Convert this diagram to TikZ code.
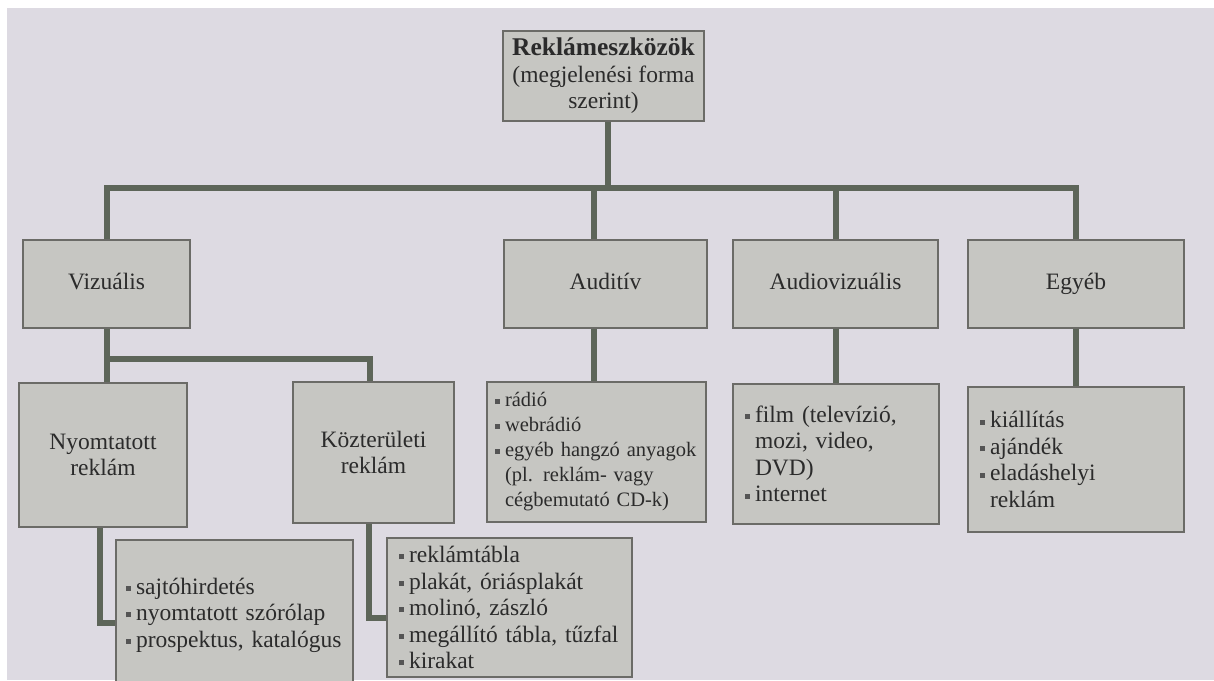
\documentclass[tikz,border=0pt]{standalone}
\usepackage{fontspec}
\setmainfont{Liberation Serif}
\usetikzlibrary{positioning}
\definecolor{paper}{HTML}{DDDAE2}
\definecolor{boxfill}{HTML}{C6C6C2}
\definecolor{edge}{HTML}{6B6B67}
\definecolor{wire}{HTML}{5D6559}
\definecolor{ink}{HTML}{2B2B2B}
\definecolor{dot}{HTML}{555555}
\newcommand\itm{\makebox[10pt][l]{\raisebox{.3ex}{\textcolor{dot}{\rule{5pt}{5pt}}}}}
\newcommand\cont{\hspace*{10pt}}
\begin{document}
\begin{tikzpicture}[x=1pt, y=-1pt,
    box/.style={draw=edge, fill=boxfill, line width=1.2pt, text=ink, inner sep=0pt,
        align=center, font=\fontsize{23.5}{26.5}\selectfont},
    list/.style={box, align=left, inner xsep=12pt},
    link/.style={draw=wire, line width=6pt}]

        \useasboundingbox (0,0) rectangle (1214,680);
        \fill[white] (0,0) rectangle (1214,680);
        \fill[paper] (7,8) rectangle (1214,680);

        \node[box, minimum width=201, minimum height=90] (R) at (603.5,76)
            {{\bfseries\fontsize{25.5}{27}\selectfont Reklámeszközök}\\(megjelenési forma\\szerint)};

        \node[box, minimum width=167, minimum height=88] (V) at (106.5,284) {\strut Vizuális};
        \node[box, minimum width=203, minimum height=88] (A) at (605.5,284) {\strut Auditív};
        \node[box, minimum width=205, minimum height=88] (AV) at (835.5,284) {\strut Audiovizuális};
        \node[box, minimum width=216, minimum height=88] (E) at (1076,284) {\strut Egyéb};

        \node[box, minimum width=168, minimum height=144] (N) at (103,455) {Nyomtatott\\reklám};
        \node[box, minimum width=161, minimum height=141] (K) at (373.5,452.5) {Közterületi\\reklám};

        \node[list, inner xsep=8pt, text width=203, minimum height=140, font=\fontsize{20.5}{25}\selectfont] (AA) at (596.5,452)
            {\itm rádió\\ \itm webrádió\\ \itm egyéb hangzó anyagok\\ \cont(pl. reklám- vagy\\ \cont cégbemutató CD-k)};
        \node[list, text width=182, minimum height=140] (AVV) at (836,454)
            {\itm film (televízió,\\ \cont mozi, video,\\ \cont DVD)\\ \itm internet};
        \node[list, text width=192, minimum height=145] (EE) at (1076,459.5)
            {\itm kiállítás\\ \itm ajándék\\ \itm eladáshelyi\\ \cont reklám};

        \node[list, inner xsep=10pt, text width=217, minimum height=150] (NN) at (234.5,615)
            {\itm sajtóhirdetés\\ \itm nyomtatott szórólap\\ \itm prospektus, katalógus};
        \node[list, text width=221, minimum height=139] (KK) at (509.5,607.5)
            {\itm reklámtábla\\ \itm plakát, óriásplakát\\ \itm molinó, zászló\\ \itm megállító tábla, tűzfal\\ \itm kirakat};

        \coordinate (H) at (608,188);
        \coordinate (S) at (106,359);

        \draw[link] (R.south -| H) -- (H);
        \draw[link] (V.north) |- (E.north |- H) -- (E.north);
        \draw[link] ([xshift=-12pt]A.north) -- ([xshift=-12pt]A.north |- H);
        \draw[link] (AV.north) -- (AV.north |- H);

        \draw[link] ([xshift=-12pt]A.south) -- ([xshift=-12pt]A.south |- AA.north);
        \draw[link] (AV.south) -- (AV.south |- AVV.north);
        \draw[link] (E.south) -- (E.south |- EE.north);

        \draw[link] (V.south) -- (V.south |- N.north);
        \draw[link] (V.south |- S) -| ([xshift=-4pt]K.north);
        \draw[link] ([xshift=-3pt]N.south) |- ([yshift=-8pt]NN.west);
        \draw[link] ([xshift=-5pt]K.south) |- ([yshift=-10pt]KK.west);
    \end{tikzpicture}
\end{document}
